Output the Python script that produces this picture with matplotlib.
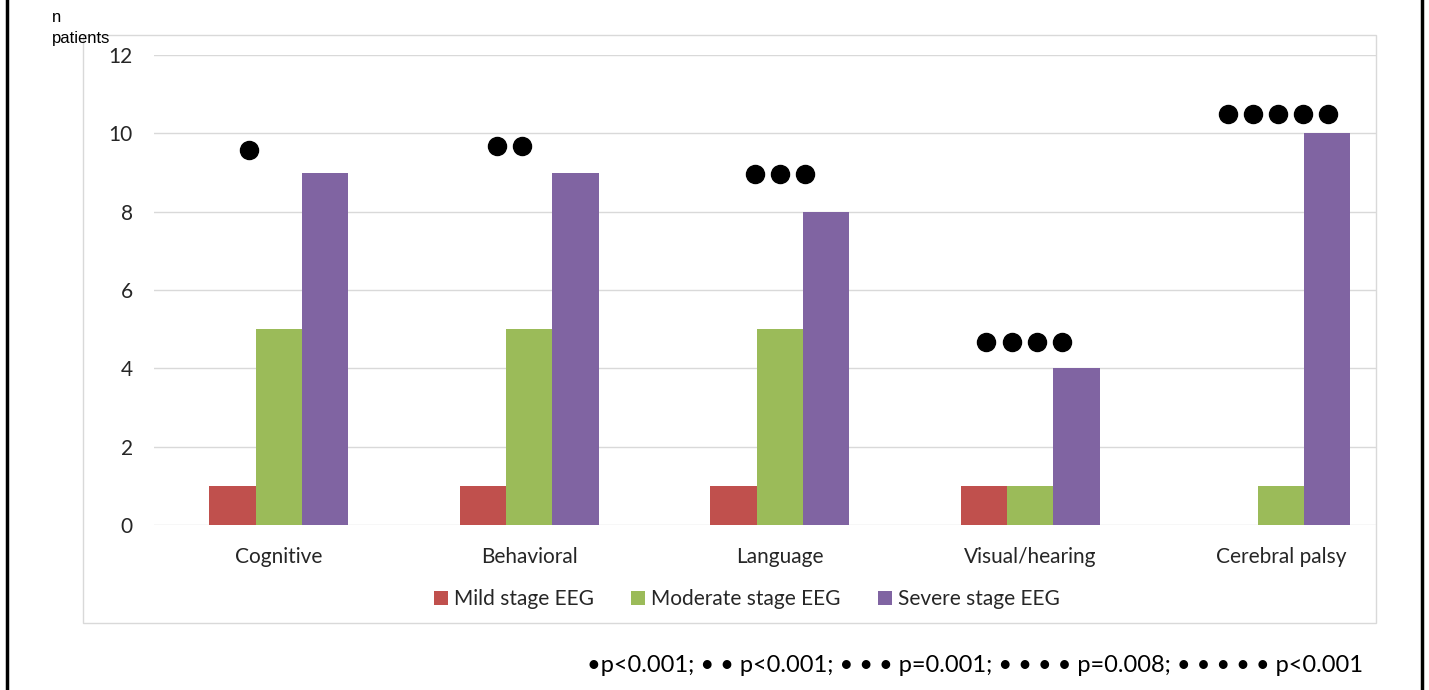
import numpy as np
import matplotlib.pyplot as plt
from matplotlib.patches import Rectangle
from matplotlib.lines import Line2D

plt.rcParams['font.family'] = ['Lato', 'DejaVu Sans']

# du lieu
nhom = ['Cognitive', 'Behavioral', 'Language', 'Visual/hearing', 'Cerebral palsy']
nhe = [1, 1, 1, 1, 0]
vua = [5, 5, 5, 1, 1]
nang = [9, 9, 8, 4, 10]
ten_chuoi = ['Mild stage EEG', 'Moderate stage EEG', 'Severe stage EEG']
mau = ['#C0504D', '#9BBB59', '#8064A2']

# cham y nghia thong ke: so cham, vi tri (lech so voi tam nhom), do cao
so_cham = [1, 2, 3, 4, 5]
lech_cham = [-0.12, -0.08, 0.0, -0.025, -0.01]
cao_cham = [9.57, 9.67, 8.95, 4.68, 10.5]
chu_thich = '•p<0.001; • • p<0.001; • • • p=0.001; • • • • p=0.008; • • • • • p<0.001'

fig = plt.figure(figsize=(14.29, 6.9), dpi=100)
W, H = 1429, 690

# khung ngoai va khung bieu do
fig.add_artist(Line2D([7 / W, 7 / W], [0, 1], color='black', lw=2.5, transform=fig.transFigure))
fig.add_artist(Line2D([1422 / W, 1422 / W], [0, 1], color='black', lw=2.5, transform=fig.transFigure))
fig.add_artist(Rectangle((83 / W, 1 - 623 / H), (1376 - 83) / W, (623 - 35) / H,
                         transform=fig.transFigure, fill=False, ec='#d9d9d9', lw=1))

ax = fig.add_axes([153.5 / W, 1 - 525 / H, (1376 - 153.5) / W, (525 - 55) / H])
x = np.arange(len(nhom))
rong = 0.185
for i, (vals, c, t) in enumerate(zip([nhe, vua, nang], mau, ten_chuoi)):
    ax.bar(x + (i - 1) * rong, vals, rong, color=c, label=t, zorder=3)

for xi, n, d, h in zip(x, so_cham, lech_cham, cao_cham):
    xs = xi + d + (np.arange(n) - (n - 1) / 2) * 0.1
    ax.scatter(xs, [h] * n, s=13 ** 2, color='black', zorder=4, clip_on=False)

ax.set_xlim(-0.5, 4.38)
ax.set_ylim(0, 12)
ax.set_yticks(range(0, 13, 2))
ax.set_xticks(x)
ax.set_xticklabels(nhom)
ax.tick_params(axis='both', length=0, labelsize=15, colors='#262626')
ax.tick_params(axis='y', pad=15)
ax.tick_params(axis='x', pad=16)
ax.grid(axis='y', color='#d9d9d9', lw=1, zorder=0)
for s in ax.spines.values():
    s.set_visible(False)

ax.legend(loc='center', bbox_to_anchor=(0.4855, (525 - 599) / 470), ncol=3, frameon=False,
          fontsize=15, handlelength=0.65, handleheight=0.65, handletextpad=0.3, columnspacing=1.8,
          labelcolor='#262626')

fig.text(52 / W, 1 - 17 / H, 'n', family='Liberation Sans', fontsize=12, va='center')
fig.text(52 / W, 1 - 38 / H, 'patients', family='Liberation Sans', fontsize=12, va='center')
fig.text(1363 / W, 1 - 665 / H, chu_thich, ha='right', va='center', fontsize=17)

fig.savefig('out.png', dpi=100)
